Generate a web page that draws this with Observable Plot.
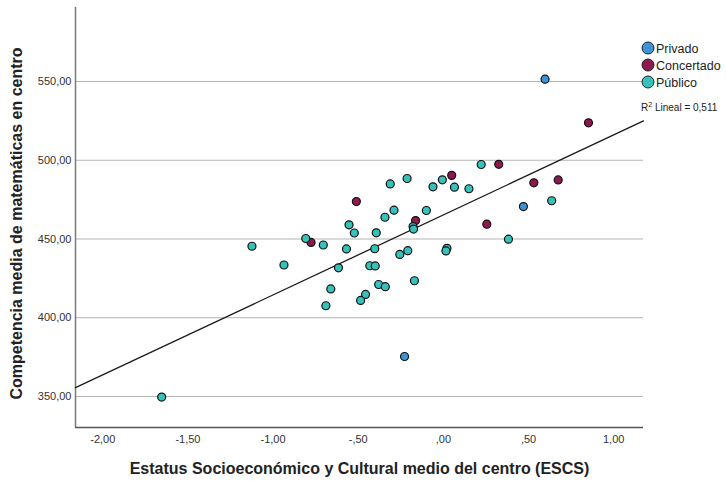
<!DOCTYPE html>
<html><head><meta charset="utf-8">
<script src="https://cdn.jsdelivr.net/npm/d3@7"></script>
<script src="https://cdn.jsdelivr.net/npm/@observablehq/plot@0.6"></script>
<style>
body{margin:0;background:#fff;}
#wrap{position:relative;width:726px;height:481px;font-family:"Liberation Sans",Arial,sans-serif;}
#legend{position:absolute;left:0;top:0;pointer-events:none;}
</style></head><body><div id="wrap"></div>
<script>
const categories = ["Privado", "Concertado", "Público"];
const colors = ["#3b93d9", "#8c1a4f", "#36c2bb"];

const privadoX = [0.597, 0.470, -0.228];
const privadoY = [551.5, 470.6, 375.4];

const concertadoX = [0.852, 0.325, 0.049, 0.531, 0.674, -0.511, -0.163, 0.255, -0.777];
const concertadoY = [523.8, 497.4, 490.4, 485.7, 487.5, 473.8, 461.7, 459.4, 447.8];

const publicoX = [0.222, -0.312, -0.213, -0.061, -0.006, 0.065, 0.150, 0.636, -0.290, -0.343,
  -0.100, -0.178, -0.175, -0.554, -0.523, -0.394, -0.808, -0.705, -0.569, -0.403,
  0.382, -0.256, -0.209, 0.021, 0.015, -0.616, -0.432, -0.400, -1.124, -0.936,
  -0.380, -0.341, -0.661, -0.170, -0.457, -0.486, -0.690, -1.654];
const publicoY = [497.3, 485.0, 488.4, 483.1, 487.6, 482.9, 481.9, 474.3, 468.3, 463.8,
  468.1, 457.9, 456.3, 459.0, 453.8, 453.9, 450.3, 446.2, 443.7, 443.8,
  449.9, 440.2, 442.6, 444.1, 442.4, 431.7, 433.0, 432.9, 445.4, 433.5,
  421.1, 419.7, 418.3, 423.5, 414.8, 411.0, 407.6, 349.6];

// linear fit (SPSS fit line), R² = 0,511
const fitIntercept = 465.3;
const fitSlope = 50.8;
const r2Text = "0,511";

const xTicks = [-2, -1.5, -1, -0.5, 0, 0.5, 1];
const yTicks = [350, 400, 450, 500, 550];
const xDomain = [-2.16, 1.175];
const yDomain = [330.3, 597];
const xTitle = "Estatus Socioeconómico y Cultural medio del centro (ESCS)";
const yTitle = "Competencia media de matemáticas en centro";

const data = [
  ...privadoX.map((x, i) => ({x, y: privadoY[i], tipo: categories[0]})),
  ...concertadoX.map((x, i) => ({x, y: concertadoY[i], tipo: categories[1]})),
  ...publicoX.map((x, i) => ({x, y: publicoY[i], tipo: categories[2]}))
];

const fit = xDomain.map(x => ({x, y: fitIntercept + fitSlope * x}));

const fmtX = v => d3.format(".2f")(v).replace("\u2212", "-").replace(".", ",").replace(/^(-?)0,/, "$1,");
const fmtY = v => d3.format(".2f")(v).replace(".", ",");

const plot = Plot.plot({
  width: 726, height: 481,
  marginLeft: 75, marginRight: 83, marginTop: 7, marginBottom: 54,
  style: {fontFamily: '"Liberation Sans", Arial, sans-serif', fontSize: "11px", color: "#333", background: "#fff"},
  x: {domain: xDomain, ticks: xTicks},
  y: {domain: yDomain, ticks: yTicks},
  color: {domain: categories, range: colors},
  marks: [
    Plot.gridY(yTicks, {stroke: "#b4b4b4", strokeOpacity: 1, strokeWidth: 1}),
    Plot.ruleX([xDomain[0]], {stroke: "#7a7a7a", strokeWidth: 1.5}),
    Plot.ruleY([yDomain[0]], {stroke: "#555", strokeWidth: 1.3}),
    Plot.axisX(xTicks, {tickSize: 0, tickPadding: 8, tickFormat: fmtX, label: null, fill: "#333"}),
    Plot.axisY(yTicks, {tickSize: 0, tickPadding: 4, tickFormat: fmtY, label: null, fill: "#333"}),
    Plot.line(fit, {x: "x", y: "y", stroke: "#1a1a1a", strokeWidth: 1.3}),
    Plot.dot(data, {x: "x", y: "y", fill: "tipo", r: 4, stroke: "#111", strokeWidth: 1.2}),
    Plot.text([xTitle], {frameAnchor: "bottom", dy: 41, fontSize: 16, fontWeight: "bold", fill: "#222", lineAnchor: "middle", textAnchor: "middle"}),
    Plot.text([yTitle], {frameAnchor: "left", dx: -59, dy: 6, rotate: -90, fontSize: 16, fontWeight: "bold", fill: "#222", lineAnchor: "middle", textAnchor: "middle"})
  ]
});
document.getElementById("wrap").appendChild(plot);

// legend overlay
const leg = d3.select("#wrap").append("svg").attr("id", "legend").attr("width", 726).attr("height", 481)
  .style("font-family", '"Liberation Sans", Arial, sans-serif');
categories.forEach((c, i) => {
  const cy = 48 + i * 17;
  leg.append("circle").attr("cx", 648).attr("cy", cy).attr("r", 6).attr("fill", colors[i]).attr("stroke", "#222").attr("stroke-width", 1);
  leg.append("text").attr("x", 656).attr("y", cy + 4.5).attr("font-size", 12.5).attr("fill", "#222").text(c);
});
const rt = leg.append("text").attr("x", 641).attr("y", 111).attr("font-size", 10).attr("fill", "#222");
rt.append("tspan").text("R");
rt.append("tspan").attr("dy", -4).attr("font-size", 7).text("2");
rt.append("tspan").attr("dy", 4).text(" Lineal = " + r2Text);
</script>
</body></html>
